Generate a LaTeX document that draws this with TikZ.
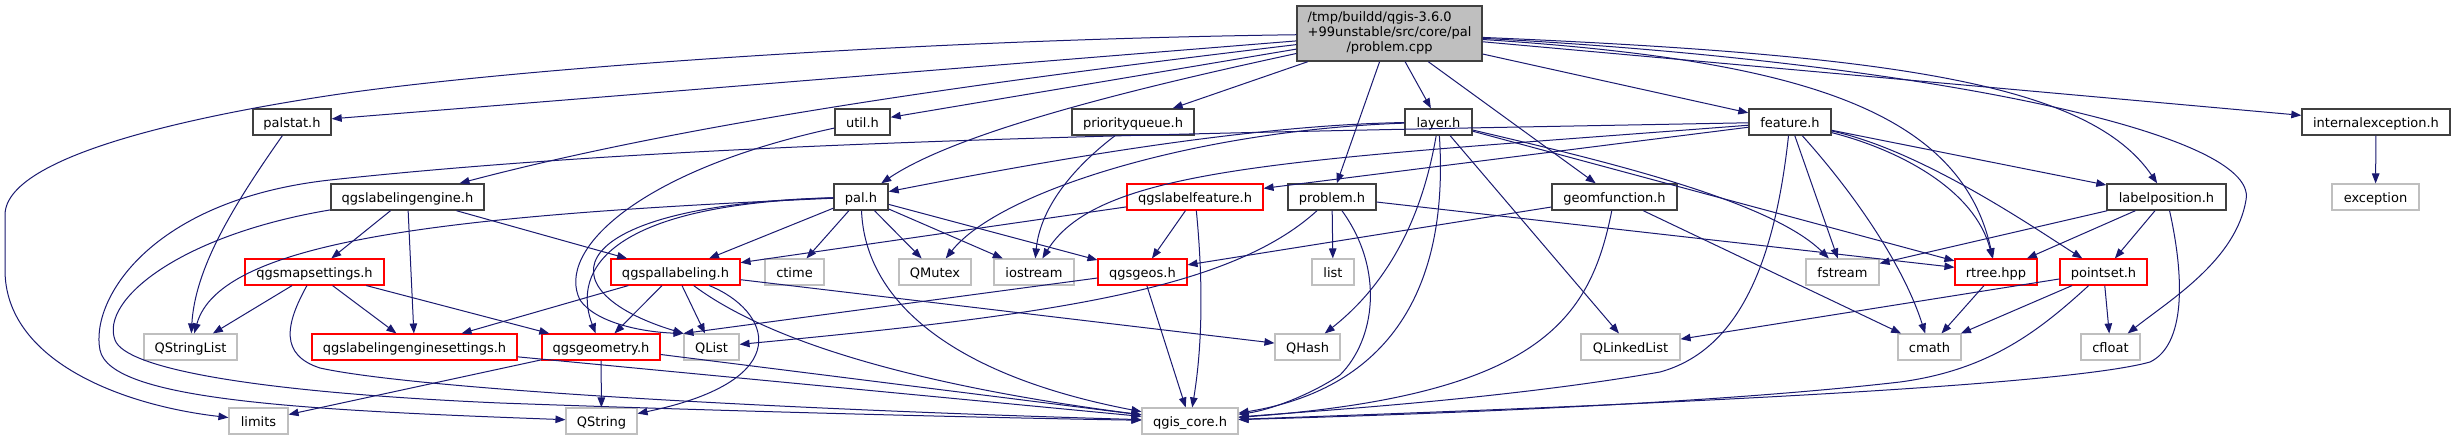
\documentclass[tikz,border=0pt]{standalone}
\usepackage{fontspec}
\setmainfont{DejaVu Sans}
\usetikzlibrary{arrows.meta}
\definecolor{mb}{HTML}{191970}
\definecolor{dg}{HTML}{404040}
\definecolor{lg}{HTML}{BFBFBF}
\definecolor{topgray}{HTML}{BFBFBF}
\tikzset{
  base/.style={rectangle, inner sep=0pt, minimum height=26pt, text height=10pt, text depth=0pt, line width=1.1pt, fill=white},
  nb/.style={base, draw=dg, line width=1.4pt},
  nr/.style={base, draw=red},
  ng/.style={base, draw=lg},
  e/.style={draw=mb, line width=1pt, -{Triangle[length=10pt,width=7.5pt]}},
}
\begin{document}
\begin{tikzpicture}[x=1pt,y=-1pt, font=\fontsize{13}{15}\selectfont]
\path[fill=white] (0,0) rectangle (2455,440);
\useasboundingbox (0,0) rectangle (2455,440);

\node[draw=dg, fill=topgray, line width=1.4pt, inner sep=0pt, minimum width=185pt, minimum height=55pt] (T) at (1389.5,33.5)
  {\begin{tabular}{@{}l@{}}/tmp/buildd/qgis-3.6.0\\+99unstable/src/core/pal\\\multicolumn{1}{@{}c@{}}{/problem.cpp}\end{tabular}};

\node[nb, minimum width=78pt] (ps) at (292,122) {palstat.h};
\node[nb, minimum width=55pt] (ut) at (862.5,122) {util.h};
\node[nb, minimum width=122pt] (pq) at (1133,122) {priorityqueue.h};
\node[nb, minimum width=67pt] (ly) at (1438.5,122) {layer.h};
\node[nb, minimum width=82pt] (ft) at (1790,122) {feature.h};
\node[nb, minimum width=148pt] (ie) at (2376,122) {internalexception.h};
\node[nb, minimum width=153pt] (qle) at (407.5,197) {qgslabelingengine.h};
\node[nb, minimum width=54pt] (pal) at (861,197) {pal.h};
\node[nr, minimum width=136pt] (qlf) at (1195,197) {qgslabelfeature.h};
\node[nb, minimum width=88pt] (pb) at (1332,197) {problem.h};
\node[nb, minimum width=125pt] (gf) at (1614.5,197) {geomfunction.h};
\node[nb, minimum width=119pt] (lp) at (2166.5,197) {labelposition.h};
\node[ng, minimum width=87pt] (ex) at (2375.5,197) {exception};
\node[nr, minimum width=139pt] (qms) at (314.5,272) {qgsmapsettings.h};
\node[nr, minimum width=129pt] (qpl) at (675.5,272) {qgspallabeling.h};
\node[ng, minimum width=59pt] (ct) at (794.5,272) {ctime};
\node[ng, minimum width=72pt] (qmx) at (935,272) {QMutex};
\node[ng, minimum width=80pt] (ios) at (1034,272) {iostream};
\node[nr, minimum width=89pt] (qgo) at (1142.5,272) {qgsgeos.h};
\node[ng, minimum width=42pt] (lst) at (1333,272) {list};
\node[ng, minimum width=73pt] (fs) at (1842.5,272) {fstream};
\node[nr, minimum width=82pt] (rt) at (1996,272) {rtree.hpp};
\node[nr, minimum width=87pt] (pts) at (2103.5,272) {pointset.h};
\node[ng, minimum width=93pt] (qsl) at (190.5,347) {QStringList};
\node[nr, minimum width=205pt] (qles) at (414.5,347) {qgslabelingenginesettings.h};
\node[nr, minimum width=118pt] (qgm) at (601,347) {qgsgeometry.h};
\node[ng, minimum width=55pt] (ql) at (711.5,347) {QList};
\node[ng, minimum width=65pt] (qh) at (1307.5,347) {QHash};
\node[ng, minimum width=99pt] (qll) at (1630.5,347) {QLinkedList};
\node[ng, minimum width=63pt] (cm) at (1929.5,347) {cmath};
\node[ng, minimum width=59pt] (cf) at (2110.5,347) {cfloat};
\node[ng, minimum width=59pt] (lim) at (258.5,421) {limits};
\node[ng, minimum width=71pt] (qs) at (601.5,421) {QString};
\node[ng, minimum width=96pt] (qc) at (1190,421) {qgis\_core.h};

% from problem.cpp
\draw[e] (T) -- (ps);
\draw[e] (T) .. controls (900,40) and (500,70) .. (333,95) .. controls (233,110) and (5,150) .. (5,215) -- (5,270) .. controls (5,360) and (120,405) .. (lim);
\draw[e] (T) .. controls (1000,80) and (700,120) .. (qle);
\draw[e] (T) -- (ut);
\draw[e] (T) .. controls (1150,85) and (960,130) .. (pal);
\draw[e] (T) -- (pq);
\draw[e] (T) -- (pb);
\draw[e] (T) -- (ly);
\draw[e] (T) -- (gf);
\draw[e] (T) -- (ft);
\draw[e] (T) -- (ie);
\draw[e] (T) .. controls (1900,55) and (2090,85) .. (lp);
\draw[e] (T) .. controls (1900,60) and (2260,130) .. (2246,200) .. controls (2236,260) and (2170,300) .. (cf);
\draw[e] (T) .. controls (1800,60) and (1960,110) .. (rt);
% palstat
\draw[e] (ps) .. controls (230,210) and (195,270) .. (qsl);
% util
\draw[e] (ut) .. controls (640,170) and (555,250) .. (580,300) .. controls (595,322) and (640,332) .. (ql.north west);
% priorityqueue
\draw[e] (pq) .. controls (1070,170) and (1040,210) .. (ios);
% layer
\draw[e] (ly) .. controls (1250,125) and (1050,160) .. (pal);
\draw[e] (ly) .. controls (1200,130) and (1000,190) .. (qmx);
\draw[e] (ly) .. controls (1450,300) and (1380,390) .. (qc);
\draw[e] (ly) .. controls (1420,230) and (1380,290) .. (qh);
\draw[e] (ly) -- (qll);
\draw[e] (ly) .. controls (1600,160) and (1770,200) .. (fs);
\draw[e] (ly) -- (rt);
% feature
\draw[e] (ft) -- (qlf);
\draw[e] (ft) .. controls (1300,160) and (1100,165) .. (ios);
\draw[e] (ft) .. controls (1200,133) and (700,140) .. (330,180) .. controls (150,200) and (90,300) .. (100,350) .. controls (110,400) and (300,410) .. (qs);
\draw[e] (ft) -- (lp);
\draw[e] (ft) .. controls (1900,150) and (1975,190) .. (rt);
\draw[e] (ft) .. controls (1920,150) and (2030,225) .. (pts);
\draw[e] (ft) -- (fs);
\draw[e] (ft) .. controls (1860,200) and (1905,270) .. (cm);
\draw[e] (ft) .. controls (1775,260) and (1740,350) .. (1660,372) .. controls (1500,400) and (1300,412) .. (qc);
% internalexception
\draw[e] (ie) -- (ex);
% qgslabelingengine
\draw[e] (qle) -- (qms);
\draw[e] (qle) -- (qles);
\draw[e] (qle) -- (qpl);
\draw[e] (qle) .. controls (180,235) and (100,300) .. (115,340) .. controls (125,368) and (250,392) .. (500,403) .. controls (750,412) and (1000,418) .. (qc);
% qgsmapsettings
\draw[e] (qms) -- (qsl);
\draw[e] (qms) -- (qles);
\draw[e] (qms) -- (qgm);
\draw[e] (qms) .. controls (285,325) and (280,355) .. (320,368) .. controls (420,390) and (800,410) .. (qc);
% qgspallabeling
\draw[e] (qpl) -- (qles);
\draw[e] (qpl) -- (qgm);
\draw[e] (qpl) -- (ql);
\draw[e] (qpl) .. controls (770,310) and (800,380) .. (qs);
\draw[e] (qpl) -- (qh);
\draw[e] (qpl) .. controls (780,350) and (950,390) .. (qc);
% qgsgeometry
\draw[e] (qgm) -- (qs);
\draw[e] (qgm) -- (lim);
\draw[e] (qgm) -- (qc);
% qgslabelingenginesettings
\draw[e] (qles) -- (qc);
% pal
\draw[e] (pal) -- (qpl);
\draw[e] (pal) -- (ct);
\draw[e] (pal) -- (qmx);
\draw[e] (pal) -- (ios);
\draw[e] (pal) -- (qgo);
\draw[e] (pal) .. controls (865,300) and (950,375) .. (qc);
\draw[e] (pal) .. controls (450,215) and (220,240) .. (qsl);
\draw[e] (pal) .. controls (560,205) and (540,290) .. (ql.north west);
\draw[e] (pal) .. controls (590,205) and (575,280) .. (qgm);
% qgslabelfeature
\draw[e] (qlf) -- (qgo);
\draw[e] (qlf) .. controls (1205,300) and (1200,360) .. (qc);
\draw[e] (qlf) -- (qpl);
% problem.h
\draw[e] (pb) -- (lst);
\draw[e] (pb) .. controls (1385,270) and (1375,340) .. (1340,375) .. controls (1310,395) and (1270,410) .. (qc);
\draw[e] (pb) .. controls (1230,290) and (1050,315) .. (ql);
\draw[e] (pb) -- (rt);
% geomfunction
\draw[e] (gf) -- (qgo);
\draw[e] (gf) -- (cm);
\draw[e] (gf) .. controls (1590,320) and (1540,395) .. (qc);
% labelposition
\draw[e] (lp) -- (fs);
\draw[e] (lp) -- (rt);
\draw[e] (lp) -- (pts);
\draw[e] (lp) .. controls (2185,280) and (2185,345) .. (2150,362) .. controls (2050,390) and (1500,410) .. (qc);
% pointset
\draw[e] (pts) -- (qll);
\draw[e] (pts) -- (cm);
\draw[e] (pts) -- (cf);
\draw[e] (pts) .. controls (2040,330) and (1990,370) .. (1900,382) .. controls (1700,405) and (1400,415) .. (qc);
% rtree
\draw[e] (rt) -- (cm);
% qgsgeos
\draw[e] (qgo) -- (qc);
\draw[e] (qgo) -- (ql.north west);
\end{tikzpicture}
\end{document}
